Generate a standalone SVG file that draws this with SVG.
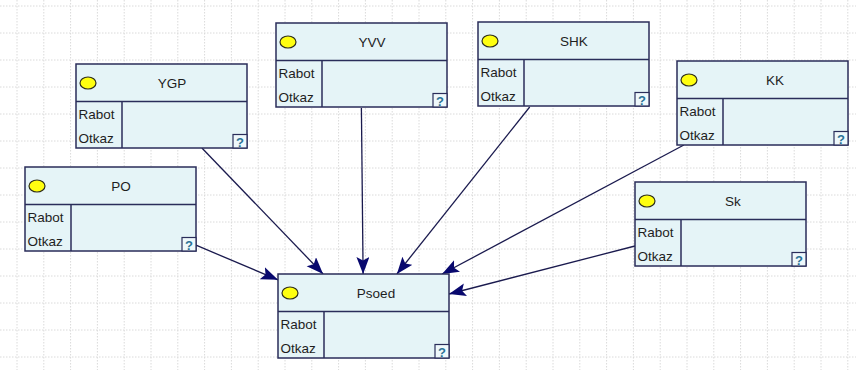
<svg xmlns="http://www.w3.org/2000/svg" width="856" height="370" viewBox="0 0 856 370">
  <style>
    .grid { stroke: #dadada; stroke-width: 1; stroke-dasharray: 1.5 1.5; fill: none; }
    .box { fill: #e5f4f7; stroke: #2a2d5a; stroke-width: 1.5; }
    .sep { stroke: #2a2d5a; stroke-width: 1.5; }
    .lamp { fill: #ffff10; stroke: #2e2e1a; stroke-width: 1.2; }
    .title { font-family: "Liberation Sans", Arial, sans-serif; font-size: 13.5px; fill: #1e1e1e; text-anchor: middle; }
    .state { font-family: "Liberation Sans", Arial, sans-serif; font-size: 13.5px; fill: #1e1e1e; }
    .qbox { fill: #eef8fb; stroke: #2a2d5a; stroke-width: 1.2; }
    .qmark { font-family: "Liberation Sans", Arial, sans-serif; font-size: 13px; font-weight: bold; fill: #2a7296; text-anchor: middle; }
    .edge { stroke: #1a1a4e; stroke-width: 1.3; fill: none; marker-end: url(#arrow); }
  </style>
  <defs>
    <marker id="arrow" markerUnits="userSpaceOnUse" markerWidth="18" markerHeight="14" refX="17" refY="6.5" orient="auto">
      <path d="M0,0 L17,6.5 L0,13 L3.5,6.5 z" fill="#08086e"/>
    </marker>
    <!-- shared node body: header, state column, indicator lamp and help box -->
    <g id="nodeBody">
      <rect class="box" x="0" y="0" width="171" height="84"/>
      <line class="sep" x1="0" y1="37.5" x2="171" y2="37.5"/>
      <line class="sep" x1="46" y1="37.5" x2="46" y2="84"/>
      <ellipse class="lamp" cx="12" cy="19" rx="8" ry="6"/>
      <text class="state" x="2.5" y="55">Rabot</text>
      <text class="state" x="2.5" y="79">Otkaz</text>
      <rect class="qbox" x="157" y="70.5" width="14" height="13.5"/>
      <text class="qmark" x="164" y="82.5">?</text>
    </g>
  </defs>

  <rect x="0" y="0" width="856" height="370" fill="#ffffff"/>
  <path class="grid" d="M17 0V370M43.8 0V370M70.6 0V370M97.4 0V370M124.2 0V370M151 0V370M177.8 0V370M204.6 0V370M231.4 0V370M258.2 0V370M285 0V370M311.8 0V370M338.6 0V370M365.4 0V370M392.2 0V370M419 0V370M445.8 0V370M472.6 0V370M499.4 0V370M526.2 0V370M553 0V370M579.8 0V370M606.6 0V370M633.4 0V370M660.2 0V370M687 0V370M713.8 0V370M740.6 0V370M767.4 0V370M794.2 0V370M821 0V370M847.8 0V370M0 6H856M0 33H856M0 60H856M0 87H856M0 114H856M0 141H856M0 168H856M0 195H856M0 222H856M0 249H856M0 276H856M0 303H856M0 330H856M0 357H856"/>

  <g id="connectors">
    <line class="edge" x1="196" y1="245.2" x2="278" y2="279.8"/>
    <line class="edge" x1="201.9" y1="148" x2="323.1" y2="274"/>
    <line class="edge" x1="361.4" y1="108" x2="363.1" y2="274"/>
    <line class="edge" x1="529.7" y1="107" x2="396.9" y2="274"/>
    <line class="edge" x1="683.9" y1="145" x2="442.1" y2="274"/>
    <line class="edge" x1="635" y1="246" x2="449" y2="294"/>
  </g>

  <g id="node-PO" transform="translate(25,167)">
    <use href="#nodeBody"/>
    <text class="title" x="96" y="24">PO</text>
  </g>
  <g id="node-YGP" transform="translate(76,64)">
    <use href="#nodeBody"/>
    <text class="title" x="96" y="24">YGP</text>
  </g>
  <g id="node-YVV" transform="translate(276,23)">
    <use href="#nodeBody"/>
    <text class="title" x="96" y="24">YVV</text>
  </g>
  <g id="node-SHK" transform="translate(478,22)">
    <use href="#nodeBody"/>
    <text class="title" x="96" y="24">SHK</text>
  </g>
  <g id="node-KK" transform="translate(677,61)">
    <use href="#nodeBody"/>
    <text class="title" x="98" y="24">KK</text>
  </g>
  <g id="node-Sk" transform="translate(635,182)">
    <use href="#nodeBody"/>
    <text class="title" x="98" y="24">Sk</text>
  </g>
  <g id="node-Psoed" transform="translate(278,274)">
    <use href="#nodeBody"/>
    <text class="title" x="98" y="24">Psoed</text>
  </g>
</svg>
